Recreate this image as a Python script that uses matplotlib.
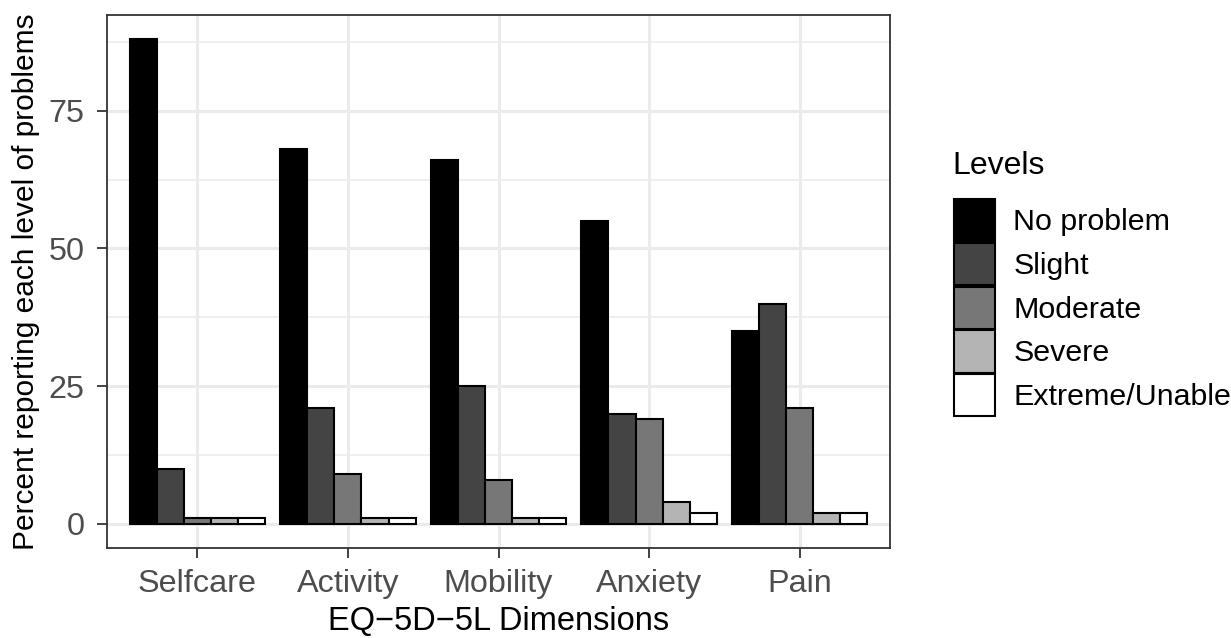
import matplotlib
matplotlib.use("Agg")
import matplotlib.pyplot as plt
from matplotlib.patches import Patch
import numpy as np

plt.rcParams['font.family'] = ['Liberation Sans', 'DejaVu Sans']

categories = ["Selfcare", "Activity", "Mobility", "Anxiety", "Pain"]
levels = ["No problem", "Slight", "Moderate", "Severe", "Extreme/Unable"]
no_problem = [88, 68, 66, 55, 35]
slight = [10, 21, 25, 20, 40]
moderate = [1, 9, 8, 19, 21]
severe = [1, 1, 1, 4, 2]
extreme = [1, 1, 1, 2, 2]
series = [no_problem, slight, moderate, severe, extreme]
colors = ["#000000", "#444444", "#777777", "#B4B4B4", "#FFFFFF"]
yticks = [0, 25, 50, 75]

FS_TICK = 23.3
FS_XLAB = 23.5
FS_YLAB = 21.5
FS_LEG = 21.9
FS_TITLE = 23

fig = plt.figure(figsize=(12.31, 6.38), dpi=100)
ax = fig.add_axes([107/1231, 1 - 548/638, (890-107)/1231, (548-15)/638])

x = np.arange(1, len(categories) + 1)
w = 0.9 / len(levels)
for i, (vals, col) in enumerate(zip(series, colors)):
    ax.bar(x - 0.45 + w * (i + 0.5), vals, width=w, color=col,
           edgecolor="black", linewidth=1.5, zorder=3)

ymax = max(no_problem)
ax.set_ylim(-0.05 * ymax, ymax * 1.05)
ax.set_xlim(0.4, 5.6)
ax.set_yticks(yticks)
ax.set_yticks([12.5, 37.5, 62.5, 87.5], minor=True)
ax.set_xticks(x)
ax.set_xticklabels(categories)
ax.grid(True, which="major", color="#EBEBEB", linewidth=2.2, zorder=0)
ax.grid(True, which="minor", axis="y", color="#EBEBEB", linewidth=1.1, zorder=0)
ax.set_axisbelow(True)
ax.tick_params(which="minor", length=0)
ax.tick_params(which="major", length=7, width=1.3, color="#333333",
               labelsize=FS_TICK, labelcolor="#4D4D4D")
ax.tick_params(axis="x", pad=8)
ax.tick_params(axis="y", pad=9)
for s in ax.spines.values():
    s.set_color("#333333")
    s.set_linewidth(1.3)

ax.set_xlabel("EQ\u22125D\u22125L Dimensions", fontsize=FS_XLAB, labelpad=5)
ax.set_ylabel("Percent reporting each level of problems", fontsize=FS_YLAB, labelpad=6)

fig.text(952/1231, 1 - 166/638, "Levels", fontsize=FS_TITLE, ha="left", va="center")
handles = [Patch(facecolor=c, edgecolor="black", linewidth=1.5) for c in colors]
leg = fig.legend(handles, levels, loc="upper left", bbox_to_anchor=(948/1231, 1 - 193/638),
                 fontsize=FS_LEG, frameon=False,
                 handlelength=1.35, handleheight=1.76, labelspacing=0.05,
                 handletextpad=0.6, borderpad=0.2, borderaxespad=0)

fig.savefig("out.png", dpi=100)
